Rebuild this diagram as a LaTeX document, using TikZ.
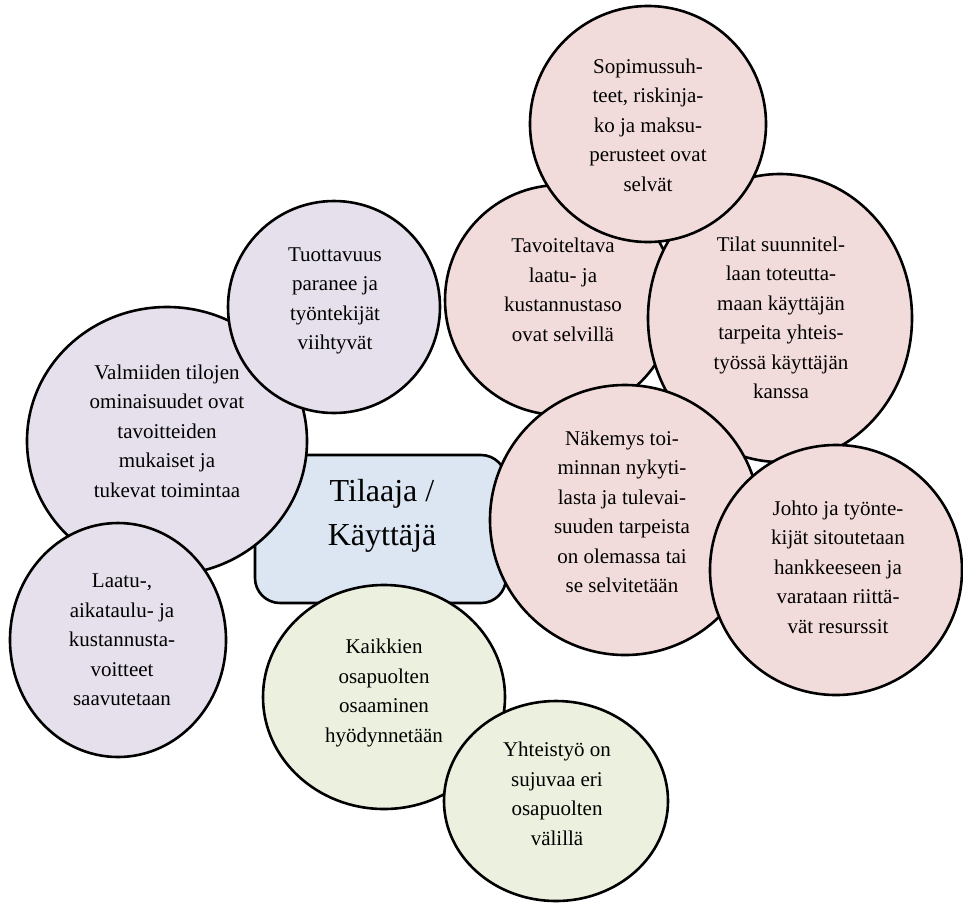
\documentclass[tikz,border=0pt]{standalone}
\usepackage{fontspec}
\setmainfont{Liberation Serif}
\newfontfamily\bubblefont{Liberation Serif}
\usetikzlibrary{shapes.geometric}
\definecolor{rosefill}{HTML}{F2DCDB}
\definecolor{lilacfill}{HTML}{E5E0EC}
\definecolor{sagefill}{HTML}{EBF1DE}
\definecolor{skyfill}{HTML}{DCE6F2}
\begin{document}
\begin{tikzpicture}[x=1pt,y=-1pt,
  bubble/.style={ellipse, draw=black, line width=2.6pt, inner sep=0pt},
  radii/.style 2 args={minimum width={2*#1pt}, minimum height={2*#2pt}},
  hubbox/.style={rectangle, rounded corners=25pt, draw=black, line width=2.6pt,
                 fill=skyfill, inner sep=0pt},
  caption/.style={align=center, font=\bubblefont\fontsize{21}{29.5}\selectfont, inner sep=0pt},
  hubcaption/.style={align=center, font=\bubblefont\fontsize{32}{44}\selectfont, inner sep=0pt},
]
\useasboundingbox (0,0) rectangle (963,903);

% central box
\node[hubbox, minimum width=251pt, minimum height=148pt] (hub) at (380.5,529) {};
\node[hubcaption] (hubtext) at (382,516) {Tilaaja /\\Käyttäjä};

% rose group
\node[bubble, fill=rosefill, radii={115}{115}] (goal) at (560,300) {};
\node[caption] (goaltext) at (563,290) {Tavoiteltava\\laatu- ja\\kustannustaso\\ovat selvillä};

\node[bubble, fill=rosefill, radii={132}{144}] (space) at (780,318) {};
\node[caption] (spacetext) at (781,318) {Tilat suunnitel-\\laan toteutta-\\maan käyttäjän\\tarpeita yhteis-\\työssä käyttäjän\\kanssa};

\node[bubble, fill=rosefill, radii={118}{118}] (contract) at (648,124) {};
\node[caption] (contracttext) at (648,125) {Sopimussuh-\\teet, riskinja-\\ko ja maksu-\\perusteet ovat\\selvät};

\node[bubble, fill=rosefill, radii={135}{135}] (vision) at (625,520) {};
\node[caption] (visiontext) at (622,512) {Näkemys toi-\\minnan nykyti-\\lasta ja tulevai-\\suuden tarpeista\\on olemassa tai\\se selvitetään};

\node[bubble, fill=rosefill, radii={126}{125}] (commit) at (836,570) {};
\node[caption] (committext) at (838,567) {Johto ja työnte-\\kijät sitoutetaan\\hankkeeseen ja\\varataan riittä-\\vät resurssit};

% lilac group
\node[bubble, fill=lilacfill, radii={140}{134}] (props) at (167,441) {};
\node[caption] (propstext) at (167,431) {Valmiiden tilojen\\ominaisuudet ovat\\tavoitteiden\\mukaiset ja\\tukevat toimintaa};

\node[bubble, fill=lilacfill, radii={106}{106}] (prod) at (334,307) {};
\node[caption] (prodtext) at (335,301) {Tuottavuus\\paranee ja\\työntekijät\\viihtyvät};

\node[bubble, fill=lilacfill, radii={108}{117}] (targets) at (118,640) {};
\node[caption] (targetstext) at (122,640) {Laatu-,\\aikataulu- ja\\kustannusta-\\voitteet\\saavutetaan};

% sage group
\node[bubble, fill=sagefill, radii={121}{112}] (skills) at (384,697) {};
\node[caption] (skillstext) at (384,693) {Kaikkien\\osapuolten\\osaaminen\\hyödynnetään};

\node[bubble, fill=sagefill, radii={112}{100}] (coop) at (556,801) {};
\node[caption] (cooptext) at (557,794) {Yhteistyö on\\sujuvaa eri\\osapuolten\\välillä};
\end{tikzpicture}
\end{document}
